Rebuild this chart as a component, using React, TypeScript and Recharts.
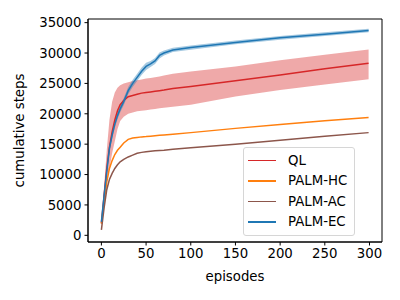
import React from 'react';
import {
  ComposedChart,
  Line,
  Area,
  XAxis,
  YAxis,
  ReferenceArea,
} from 'recharts';

// episodes sampled from the curves
const episodes = [0, 3, 6, 9, 12, 15, 18, 21, 25, 30, 35, 40, 45, 50, 55, 60, 65, 70, 80, 100, 150, 200, 250, 299];

const ql = [2000, 6500, 11000, 14500, 17000, 19000, 20500, 21500, 22200, 22800, 23000, 23200, 23400, 23500, 23600, 23700, 23800, 23900, 24150, 24500, 25450, 26400, 27400, 28300];
const qlLow = [1800, 5000, 8500, 11000, 13500, 15500, 17500, 18800, 19500, 20000, 20200, 20400, 20500, 20600, 20700, 20800, 20900, 21000, 21150, 21500, 22850, 23900, 24800, 25700];
const qlHigh = [2200, 8000, 14000, 19000, 22000, 23500, 24300, 24700, 25000, 25200, 25400, 25500, 25650, 25800, 25900, 26000, 26150, 26300, 26600, 26950, 27800, 28800, 29700, 30600];

const palmHC = [1900, 5500, 8800, 11000, 12300, 13300, 14000, 14500, 15200, 15800, 16000, 16100, 16200, 16250, 16320, 16400, 16450, 16500, 16630, 16900, 17600, 18250, 18850, 19400];
const palmAC = [900, 4500, 7500, 9200, 10200, 11000, 11600, 12100, 12500, 12900, 13200, 13500, 13650, 13750, 13850, 13900, 13950, 14000, 14150, 14400, 15000, 15650, 16300, 16900];

const palmEC = [2200, 6500, 10500, 14300, 16500, 18300, 19700, 20800, 22000, 23800, 25000, 26000, 27000, 27800, 28200, 28700, 29600, 30000, 30500, 30900, 31750, 32500, 33100, 33700];
const palmECLow = [2000, 6000, 9900, 13700, 15900, 17700, 19100, 20200, 21400, 23200, 24400, 25400, 26400, 27200, 27700, 28200, 29100, 29600, 30150, 30550, 31450, 32200, 32800, 33400];
const palmECHigh = [2400, 7000, 11100, 14900, 17100, 18900, 20300, 21400, 22600, 24400, 25600, 26600, 27600, 28400, 28700, 29200, 30100, 30400, 30850, 31250, 32050, 32800, 33400, 34000];

const xTicks = [0, 50, 100, 150, 200, 250, 300];
const yTicks = [0, 5000, 10000, 15000, 20000, 25000, 30000, 35000];
const xDomain = [-15, 314];
const yDomain = [-1100, 35600];

const series = [
  { name: 'QL', color: '#d62728' },
  { name: 'PALM-HC', color: '#ff7f0e' },
  { name: 'PALM-AC', color: '#8c564b' },
  { name: 'PALM-EC', color: '#1f77b4' },
];

const data = episodes.map((ep, i) => ({
  ep,
  ql: ql[i],
  qlBand: [qlLow[i], qlHigh[i]],
  hc: palmHC[i],
  ac: palmAC[i],
  ec: palmEC[i],
  ecBand: [palmECLow[i], palmECHigh[i]],
}));

const font = 'DejaVu Sans, sans-serif';

const LegendBox = () => (
  <div
    style={{
      position: 'absolute',
      left: 243,
      top: 147,
      width: 112,
      height: 89,
      border: '1px solid #d6d6d6',
      borderRadius: 3,
      background: 'rgba(255,255,255,0.8)',
      fontFamily: font,
      fontSize: 13.3,
      color: '#000',
      boxSizing: 'border-box',
      paddingTop: 2,
    }}
  >
    {series.map(s => (
      <div key={s.name} style={{ display: 'flex', alignItems: 'center', height: 20.5 }}>
        <div style={{ width: 28, height: 1.5, background: s.color, marginLeft: 4, marginRight: 12, flexShrink: 0 }} />
        <span>{s.name}</span>
      </div>
    ))}
  </div>
);

const App: React.FC = () => {
  const tick = { fontFamily: font, fontSize: 13.3, fill: '#000' };
  return (
    <div style={{ position: 'absolute', left: 0, top: 0, width: 400, height: 300, background: '#fff' }}>
      <ComposedChart width={400} height={300} data={data} margin={{ top: 19, right: 18, left: 0, bottom: 0 }}>
        <XAxis
          dataKey="ep"
          type="number"
          domain={xDomain}
          ticks={xTicks}
          interval={0}
          allowDataOverflow
          height={58}
          tick={tick}
          tickSize={3.5}
          tickMargin={3}
          stroke="#000"
          label={{ value: 'episodes', position: 'insideBottom', offset: 19, style: { ...tick, textAnchor: 'middle' } }}
        />
        <YAxis
          type="number"
          domain={yDomain}
          ticks={yTicks}
          interval={0}
          allowDataOverflow
          width={88}
          tick={tick}
          tickSize={3.5}
          tickMargin={3}
          stroke="#000"
          label={{ value: 'cumulative steps', angle: -90, position: 'insideLeft', offset: 19, style: { ...tick, textAnchor: 'middle' } }}
        />
        <Area dataKey="qlBand" stroke="none" fill="#d62728" fillOpacity={0.4} isAnimationActive={false} />
        <Area dataKey="ecBand" stroke="none" fill="#1f77b4" fillOpacity={0.4} isAnimationActive={false} />
        <Line dataKey="ql" stroke="#d62728" strokeWidth={1.5} dot={false} isAnimationActive={false} />
        <Line dataKey="hc" stroke="#ff7f0e" strokeWidth={1.5} dot={false} isAnimationActive={false} />
        <Line dataKey="ac" stroke="#8c564b" strokeWidth={1.5} dot={false} isAnimationActive={false} />
        <Line dataKey="ec" stroke="#1f77b4" strokeWidth={1.5} dot={false} isAnimationActive={false} />
        <ReferenceArea x1={xDomain[0]} x2={xDomain[1]} y1={yDomain[0]} y2={yDomain[1]} fill="none" stroke="#000" strokeWidth={1} ifOverflow="visible" />
      </ComposedChart>
      <LegendBox />
    </div>
  );
};

export default App;
